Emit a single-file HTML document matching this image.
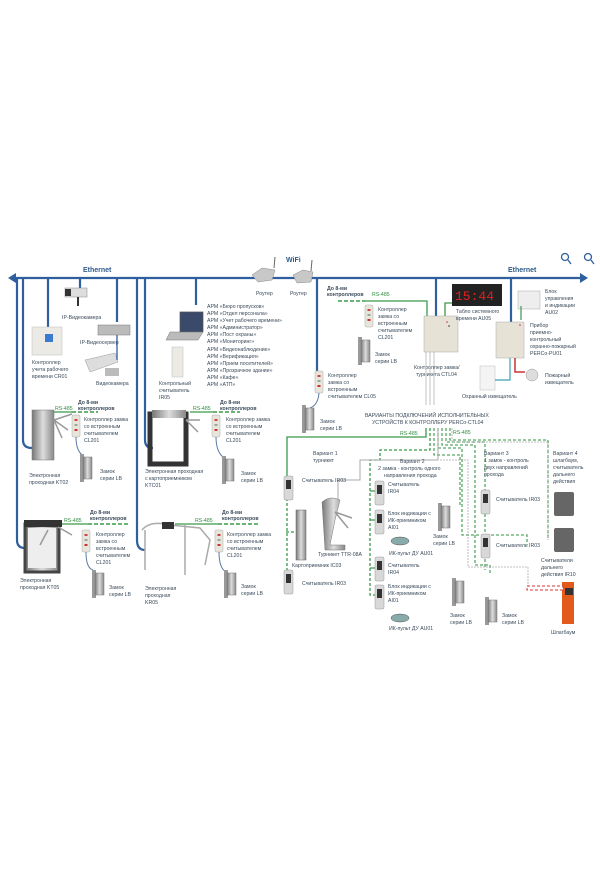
<!DOCTYPE html>
<html><head><meta charset="utf-8"><style>
html,body{margin:0;padding:0;background:#fff}
svg{display:block}
text{font-family:"Liberation Sans",sans-serif;fill:#3a4a5a}
.s{font-size:5.2px}
.g{fill:#2e8b3e}
.b{fill:#2e5a8a;font-weight:bold}
</style></head><body>
<svg width="600" height="888" viewBox="0 0 600 888" xmlns="http://www.w3.org/2000/svg">
<defs>
<linearGradient id="met" x1="0" x2="1"><stop offset="0" stop-color="#777"/><stop offset=".5" stop-color="#ddd"/><stop offset="1" stop-color="#888"/></linearGradient>
<g id="cl"><rect x="0" y="0" width="8" height="22" rx="1.5" fill="#e8e6dc" stroke="#aaa" stroke-width=".5"/><rect x="2.5" y="4" width="3" height="2" fill="#c44"/><rect x="2.5" y="9" width="3" height="2" fill="#9a9"/><rect x="2.5" y="14" width="3" height="2" fill="#c33"/></g>
<g id="lk"><rect x="0" y="0" width="4" height="28" fill="#999"/><rect x="3" y="3" width="9" height="22" fill="url(#met)" stroke="#777" stroke-width=".5"/></g>
<g id="rd"><rect x="0" y="0" width="9" height="24" rx="1.5" fill="#d8d8d8" stroke="#999" stroke-width=".5"/><rect x="2" y="4" width="5" height="9" fill="#333"/></g>
</defs>

<g stroke="#2f5f9f" stroke-width="2.2" fill="none">
<line x1="14" y1="278" x2="582" y2="278"/>
<path d="M17 278 V540 Q17 548 25 548"/>
<path d="M23 278 V440 Q23 448 32 448"/>
<line x1="48" y1="278" x2="48" y2="327"/>
<line x1="80" y1="278" x2="80" y2="292"/>
<line x1="117" y1="278" x2="117" y2="322"/>
<path d="M137 278 V540 Q137 550 145 550"/>
<path d="M145 278 V440 Q145 448 153 448"/>
<line x1="196" y1="278" x2="196" y2="305"/>
<line x1="436" y1="278" x2="436" y2="316"/>
<line x1="511" y1="278" x2="511" y2="322"/>
<path d="M317 278 V372"/>
</g>
<polygon points="8,278 16,273 16,283" fill="#2f5f9f"/>
<polygon points="588,278 580,273 580,283" fill="#2f5f9f"/>
<text x="83" y="272" class="b" font-size="7">Ethernet</text>
<text x="508" y="272" class="b" font-size="7">Ethernet</text>
<text x="286" y="262" class="b" font-size="7">WiFi</text>
<g stroke="#2f5f9f" stroke-width="1.3" fill="none"><circle cx="565" cy="257" r="3.5"/><line x1="568" y1="260" x2="571" y2="264"/><circle cx="588" cy="257" r="3.5"/><line x1="591" y1="260" x2="594" y2="264"/></g>

<path d="M252 275 L262 268 L275 270 L272 280 L258 282 Z" fill="#c8c8c8" stroke="#888" stroke-width=".5"/>
<line x1="274" y1="268" x2="275" y2="257" stroke="#666"/>
<text x="256" y="295" class="s">Роутер</text>
<path d="M293 275 L303 270 L313 272 L311 282 L297 283 Z" fill="#c8c8c8" stroke="#888" stroke-width=".5"/>
<line x1="311" y1="271" x2="312" y2="260" stroke="#666"/>
<text x="290" y="295" class="s">Роутер</text>

<rect x="32" y="327" width="30" height="28" fill="#eceae4" stroke="#bbb" stroke-width=".5"/><rect x="45" y="334" width="8" height="8" fill="#3a7ad0"/>
<text x="32" y="364" class="s">Контроллер</text><text x="32" y="371" class="s">учета рабочего</text><text x="32" y="378" class="s">времени CR01</text>
<rect x="65" y="288" width="22" height="9" fill="#ddd" stroke="#888" stroke-width=".5"/><rect x="65" y="289" width="6" height="7" fill="#333"/><rect x="77" y="297" width="2" height="9" fill="#333"/>
<text x="62" y="319" class="s">IP-Видеокамера</text>
<rect x="98" y="325" width="32" height="10" fill="#bbb" stroke="#777" stroke-width=".5"/>
<text x="80" y="344" class="s">IP-Видеосервер</text>
<path d="M85 360 L115 353 L118 362 L90 372 Z" fill="#ddd" stroke="#999" stroke-width=".5"/><rect x="105" y="368" width="14" height="8" fill="#bbb"/>
<text x="96" y="385" class="s">Видеокамера</text>
<line x1="117" y1="335" x2="117" y2="360" stroke="#2f5f9f" stroke-width="1.3"/>

<path d="M180 312 L203 312 L203 332 L180 332 Z" fill="#3a4a6a" stroke="#555" stroke-width=".7"/>
<path d="M170 332 L203 332 L198 340 L166 340 Z" fill="#bbb" stroke="#777" stroke-width=".5"/>
<rect x="172" y="347" width="11" height="30" fill="#eceae4" stroke="#bbb" stroke-width=".5"/>
<text x="159" y="385" class="s">Контрольный</text><text x="159" y="392" class="s">считыватель</text><text x="159" y="399" class="s">IR05</text>
<text x="207" y="308" class="s">АРМ «Бюро пропусков»</text>
<text x="207" y="315" class="s">АРМ «Отдел персонала»</text>
<text x="207" y="322" class="s">АРМ «Учет рабочего времени»</text>
<text x="207" y="329" class="s">АРМ «Администратор»</text>
<text x="207" y="336" class="s">АРМ «Пост охраны»</text>
<text x="207" y="343" class="s">АРМ «Мониторинг»</text>
<text x="207" y="351" class="s">АРМ «Видеонаблюдение»</text>
<text x="207" y="358" class="s">АРМ «Верификация»</text>
<text x="207" y="365" class="s">АРМ «Прием посетителей»</text>
<text x="207" y="372" class="s">АРМ «Прозрачное здание»</text>
<text x="207" y="379" class="s">АРМ «Кафе»</text>
<text x="207" y="386" class="s">АРМ «АТП»</text>

<rect x="32" y="410" width="22" height="50" fill="url(#met)" stroke="#777" stroke-width=".5"/>
<path d="M54 420 L72 414 M54 420 L68 430 M54 420 L62 438" stroke="#999" stroke-width="1.5"/>
<path d="M54 412 H72" stroke="#3a9a4a" stroke-width="1.2"/><path d="M72 412 H98" stroke="#3a9a4a" stroke-width="1.5" stroke-dasharray="4 2"/>
<text x="55" y="410" class="s g">RS-485</text><text x="78" y="404" class="s" font-weight="bold">До 8-ми</text><text x="78" y="410" class="s" font-weight="bold">контроллеров</text>
<use href="#cl" x="72" y="415"/><text x="84" y="421" class="s">Контроллер замка</text><text x="84" y="428" class="s">со встроенным</text><text x="84" y="435" class="s">считывателем</text><text x="84" y="442" class="s">CL201</text>
<path d="M76 437 Q76 452 84 456" stroke="#5a7aa0" fill="none"/><use href="#lk" x="80" y="454"/>
<text x="100" y="473" class="s">Замок</text><text x="100" y="480" class="s">серии LB</text>
<text x="29" y="477" class="s">Электронная</text><text x="29" y="484" class="s">проходная KT02</text>

<rect x="150" y="414" width="36" height="50" fill="none" stroke="#333" stroke-width="5"/>
<rect x="152" y="410" width="34" height="8" fill="url(#met)"/>
<path d="M186 420 L200 420 M186 420 L198 432" stroke="#999" stroke-width="1.5"/>
<path d="M190 412 H213" stroke="#3a9a4a" stroke-width="1.2"/><path d="M213 412 H240" stroke="#3a9a4a" stroke-width="1.5" stroke-dasharray="4 2"/>
<text x="193" y="410" class="s g">RS-485</text><text x="220" y="404" class="s" font-weight="bold">До 8-ми</text><text x="220" y="410" class="s" font-weight="bold">контроллеров</text>
<use href="#cl" x="212" y="415"/><text x="226" y="421" class="s">Контроллер замка</text><text x="226" y="428" class="s">со встроенным</text><text x="226" y="435" class="s">считывателем</text><text x="226" y="442" class="s">CL201</text>
<path d="M216 437 Q216 452 224 458" stroke="#5a7aa0" fill="none"/><use href="#lk" x="222" y="456"/>
<text x="241" y="475" class="s">Замок</text><text x="241" y="482" class="s">серии LB</text>
<text x="145" y="473" class="s">Электронная проходная</text><text x="145" y="480" class="s">с картоприемником</text><text x="145" y="487" class="s">KTC01</text>

<rect x="25" y="524" width="34" height="48" fill="url(#met)" stroke="#444" stroke-width="3"/>
<rect x="28" y="528" width="28" height="40" fill="#eee"/>
<rect x="24" y="520" width="38" height="7" fill="#333"/>
<path d="M58 527 L72 535 M48 530 L40 545" stroke="#999" stroke-width="1.5"/>
<path d="M62 524 H88" stroke="#3a9a4a" stroke-width="1.2"/><path d="M88 524 H128" stroke="#3a9a4a" stroke-width="1.5" stroke-dasharray="4 2"/>
<text x="64" y="522" class="s g">RS-485</text><text x="90" y="514" class="s" font-weight="bold">До 8-ми</text><text x="90" y="520" class="s" font-weight="bold">контроллеров</text>
<use href="#cl" x="82" y="530"/><text x="96" y="536" class="s">Контроллер</text><text x="96" y="543" class="s">замка со</text><text x="96" y="550" class="s">встроенным</text><text x="96" y="557" class="s">считывателем</text><text x="96" y="564" class="s">CL201</text>
<path d="M86 552 Q86 568 93 570" stroke="#5a7aa0" fill="none"/><use href="#lk" x="92" y="570"/>
<text x="109" y="589" class="s">Замок</text><text x="109" y="596" class="s">серии LB</text>
<text x="20" y="582" class="s">Электронная</text><text x="20" y="589" class="s">проходная KT05</text>

<path d="M142 530 Q150 520 170 525 L200 528 L210 540 L205 565 M145 530 V570 M185 525 V575" stroke="#aaa" stroke-width="1.5" fill="none"/>
<rect x="162" y="522" width="12" height="7" fill="#333"/>
<path d="M175 524 H218" stroke="#3a9a4a" stroke-width="1.2"/><path d="M218 524 H258" stroke="#3a9a4a" stroke-width="1.5" stroke-dasharray="4 2"/>
<text x="195" y="522" class="s g">RS-485</text><text x="222" y="514" class="s" font-weight="bold">До 8-ми</text><text x="222" y="520" class="s" font-weight="bold">контроллеров</text>
<use href="#cl" x="215" y="530"/><text x="227" y="536" class="s">Контроллер замка</text><text x="227" y="543" class="s">со встроенным</text><text x="227" y="550" class="s">считывателем</text><text x="227" y="557" class="s">CL201</text>
<path d="M219 552 Q219 568 226 572" stroke="#5a7aa0" fill="none"/><use href="#lk" x="224" y="570"/>
<text x="241" y="588" class="s">Замок</text><text x="241" y="595" class="s">серии LB</text>
<text x="145" y="590" class="s">Электронная</text><text x="145" y="597" class="s">проходная</text><text x="145" y="604" class="s">KR05</text>

<text x="327" y="290" class="s" font-weight="bold">До 8-ми</text><text x="327" y="296" class="s" font-weight="bold">контроллеров</text>
<text x="372" y="296" class="s g">RS-485</text>
<path d="M338 301 H365" stroke="#3a9a4a" stroke-width="1.5" stroke-dasharray="4 2"/>
<path d="M365 301 H427 V316" stroke="#3a9a4a" stroke-width="1.3" fill="none"/>
<path d="M445 316 V303 H452" stroke="#3a9a4a" stroke-width="1.3" fill="none"/>
<use href="#cl" x="365" y="305"/><text x="378" y="311" class="s">Контроллер</text><text x="378" y="318" class="s">замка со</text><text x="378" y="325" class="s">встроенным</text><text x="378" y="332" class="s">считывателем</text><text x="378" y="339" class="s">CL201</text>
<use href="#lk" x="358" y="337"/><text x="375" y="356" class="s">Замок</text><text x="375" y="363" class="s">серии LB</text>
<use href="#cl" x="315" y="371"/><text x="328" y="377" class="s">Контроллер</text><text x="328" y="384" class="s">замка со</text><text x="328" y="391" class="s">встроенным</text><text x="328" y="398" class="s">считывателем CL05</text>
<path d="M319 393 Q318 405 310 408" stroke="#5a7aa0" fill="none"/><use href="#lk" x="302" y="405"/><text x="320" y="423" class="s">Замок</text><text x="320" y="430" class="s">серии LB</text>

<rect x="424" y="316" width="34" height="36" fill="#e6e2d6" stroke="#aaa" stroke-width=".5"/>
<circle cx="447" cy="322" r=".8" fill="#c33"/><circle cx="449" cy="326" r=".8" fill="#333"/>
<text x="414" y="369" class="s">Контроллер замка/</text><text x="416" y="376" class="s">турникета CTL04</text>
<rect x="452" y="284" width="50" height="22" fill="#222"/>
<text x="455" y="300" font-size="13" style="fill:#e02020;font-family:'Liberation Mono',monospace">15:44</text>
<text x="456" y="313" class="s">Табло системного</text><text x="456" y="320" class="s">времени AU05</text>
<rect x="496" y="322" width="28" height="36" fill="#e6e2d6" stroke="#aaa" stroke-width=".5"/><circle cx="520" cy="325" r=".8" fill="#c33"/>
<rect x="518" y="291" width="22" height="18" fill="#eee" stroke="#aaa" stroke-width=".5"/>
<line x1="521" y1="306" x2="521" y2="320" stroke="#3a9a4a" stroke-width="1.2"/>
<text x="545" y="293" class="s">Блок</text><text x="545" y="300" class="s">управления</text><text x="545" y="307" class="s">и индикации</text><text x="545" y="314" class="s">AU02</text>
<text x="530" y="327" class="s">Прибор</text><text x="530" y="334" class="s">приемно-</text><text x="530" y="341" class="s">контрольный</text><text x="530" y="348" class="s">охранно-пожарный</text><text x="530" y="355" class="s">PERCo-PU01</text>
<rect x="480" y="366" width="15" height="24" fill="#f4f4f4" stroke="#bbb" stroke-width=".5"/>
<path d="M495 380 H510 V358" stroke="#3aa0b0" stroke-width="1.2" fill="none"/>
<path d="M515 358 V372 H525" stroke="#c33" stroke-width="1.5" fill="none"/>
<circle cx="532" cy="375" r="6" fill="#ddd" stroke="#999" stroke-width=".5"/>
<text x="545" y="377" class="s">Пожарный</text><text x="545" y="384" class="s">извещатель</text>
<text x="462" y="398" class="s">Охранный извещатель</text>
<text x="365" y="417" class="s">ВАРИАНТЫ ПОДКЛЮЧЕНИЙ ИСПОЛНИТЕЛЬНЫХ</text>
<text x="372" y="424" class="s">УСТРОЙСТВ К КОНТРОЛЛЕРУ PERCo-CTL04</text>
<path d="M426 352 V405 M430 352 V405 M434 352 V405" stroke="#aaa" stroke-width=".7"/>

<path d="M426 428 V437 H287 V478" stroke="#3a9a4a" stroke-width="1.3" fill="none"/>
<text x="400" y="435" class="s g">RS-485</text><text x="453" y="434" class="s g">RS-485</text>
<path d="M287 498 V578" stroke="#3a9a4a" stroke-width="1.3" stroke-dasharray="3 2" fill="none"/>
<path d="M286 532 H300" stroke="#3a9a4a" stroke-width="1.3" stroke-dasharray="3 2"/>
<path d="M430 428 V450 H380 V460 H370 V595 H375" stroke="#3a9a4a" stroke-width="1.3" stroke-dasharray="3 2" fill="none"/>
<path d="M370 491 H375 M370 520 H375 M370 568 H375" stroke="#3a9a4a" stroke-width="1.3"/>
<path d="M434 428 V455 H460 V505 M438 428 V448 H462 V535 H527 V545 M442 428 V445 H475 V565 H490 V575 M446 428 V442 H485 V570 M450 428 V440 H548 V540" stroke="#3a9a4a" stroke-width="1.3" stroke-dasharray="3 2" fill="none" opacity=".85"/>
<path d="M452 428 V442 H548 V540 M440 460 H468 V567 H528 V590" stroke="#aaa" stroke-width=".8" stroke-dasharray="2 1" fill="none"/>
<path d="M438 428 V460 H360 V480 H338 V505" stroke="#aaa" stroke-width="1" fill="none"/>
<text x="313" y="455" class="s">Вариант 1</text><text x="313" y="462" class="s">турникет</text>
<use href="#rd" x="284" y="476"/><text x="302" y="482" class="s">Считыватель IR03</text>
<rect x="296" y="510" width="10" height="50" fill="url(#met)" stroke="#666" stroke-width=".5"/>
<path d="M322 502 Q330 495 340 500 L335 520 L330 545 H345 V550 H325 Z" fill="url(#met)" stroke="#777" stroke-width=".5"/>
<path d="M335 512 L352 518 M335 512 L348 528" stroke="#999" stroke-width="1.5"/>
<text x="318" y="556" class="s">Турникет TTR-08A</text>
<text x="292" y="567" class="s">Картоприемник IC03</text>
<use href="#rd" x="284" y="570"/><text x="302" y="585" class="s">Считыватель IR03</text>
<text x="400" y="463" class="s">Вариант 2</text><text x="378" y="470" class="s">2 замка - контроль одного</text><text x="384" y="477" class="s">направления прохода</text>
<use href="#rd" x="375" y="481"/><text x="388" y="486" class="s">Считыватель</text><text x="388" y="493" class="s">IR04</text>
<use href="#rd" x="375" y="510"/><text x="388" y="515" class="s">Блок индикации с</text><text x="388" y="522" class="s">ИК-приемником</text><text x="388" y="529" class="s">AI01</text>
<ellipse cx="400" cy="541" rx="9" ry="4" fill="#8aa" stroke="#555" stroke-width=".5"/><text x="389" y="555" class="s">ИК-пульт ДУ AU01</text>
<use href="#lk" x="438" y="503"/><text x="433" y="538" class="s">Замок</text><text x="433" y="545" class="s">серии LB</text>
<use href="#rd" x="375" y="557"/><text x="388" y="567" class="s">Считыватель</text><text x="388" y="574" class="s">IR04</text>
<use href="#rd" x="375" y="585"/><text x="388" y="588" class="s">Блок индикации с</text><text x="388" y="595" class="s">ИК-приемником</text><text x="388" y="602" class="s">AI01</text>
<ellipse cx="400" cy="618" rx="9" ry="4" fill="#8aa" stroke="#555" stroke-width=".5"/><text x="389" y="630" class="s">ИК-пульт ДУ AU01</text>
<use href="#lk" x="452" y="578"/><text x="450" y="617" class="s">Замок</text><text x="450" y="624" class="s">серии LB</text>
<use href="#lk" x="485" y="597"/><text x="502" y="617" class="s">Замок</text><text x="502" y="624" class="s">серии LB</text>
<text x="484" y="455" class="s">Вариант 3</text><text x="484" y="462" class="s">1 замок - контроль</text><text x="484" y="469" class="s">двух направлений</text><text x="484" y="476" class="s">прохода</text>
<use href="#rd" x="481" y="490"/><text x="496" y="501" class="s">Считыватель IR03</text>
<use href="#rd" x="481" y="534"/><text x="496" y="547" class="s">Считыватель IR03</text>
<text x="553" y="455" class="s">Вариант 4</text><text x="553" y="462" class="s">шлагбаум,</text><text x="553" y="469" class="s">считыватель</text><text x="553" y="476" class="s">дальнего</text><text x="553" y="483" class="s">действия</text>
<rect x="554" y="492" width="20" height="24" rx="2" fill="#666"/>
<rect x="554" y="528" width="20" height="24" rx="2" fill="#666"/>
<text x="541" y="562" class="s">Считыватели</text><text x="541" y="569" class="s">дальнего</text><text x="541" y="576" class="s">действия IR10</text>
<rect x="562" y="582" width="12" height="42" fill="#e25a1c"/><rect x="565" y="588" width="8" height="7" fill="#333"/>
<rect x="527" y="586" width="36" height="4" fill="#fff" stroke="#d33" stroke-width="1" stroke-dasharray="3 2"/>
<text x="551" y="634" class="s">Шлагбаум</text>
</svg>
</body></html>
